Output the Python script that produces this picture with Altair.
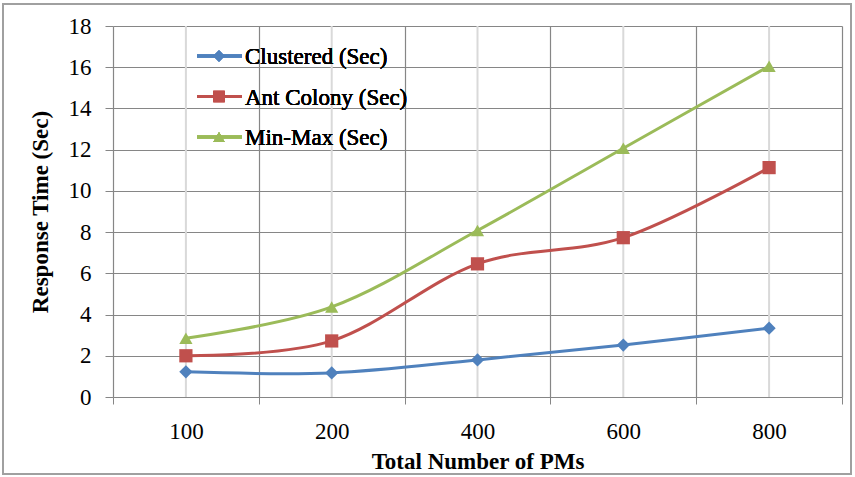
import altair as alt
import pandas as pd

# Response time per number of PMs for three scheduling approaches
categories = ["100", "200", "400", "600", "800"]
series_names = ["Clustered (Sec)", "Ant Colony (Sec)", "Min-Max (Sec)"]
clustered = [1.22, 1.17, 1.80, 2.52, 3.34]
ant_colony = [2.00, 2.72, 6.46, 7.73, 11.13]
min_max = [2.85, 4.37, 8.08, 12.07, 16.05]
y_ticks = [0, 2, 4, 6, 8, 10, 12, 14, 16, 18]

colors = ["#4F81BD", "#C0504D", "#9BBB59"]
shapes = ["diamond", "square", "triangle-up"]

rows = []
for name, vals in zip(series_names, [clustered, ant_colony, min_max]):
    for cat, v in zip(categories, vals):
        rows.append({"pm": cat, "series": name, "value": v})
df = pd.DataFrame(rows)
cat_df = pd.DataFrame({"pm": categories})

FONT = "Liberation Serif"
GRID = "#868686"
W, H = 729, 371

x_enc = alt.X(
    "pm:N",
    sort=categories,
    scale=alt.Scale(type="band", paddingInner=0, paddingOuter=0),
    axis=alt.Axis(
        title="Total Number of PMs",
        tickBand="extent",
        grid=True,
        gridColor=GRID,
        gridWidth=1.2,
        tickColor=GRID,
        tickSize=7,
        domain=False,
        labelAngle=0,
        labelFont=FONT,
        labelFontSize=23,
        labelColor="#000000",
        labelPadding=16,
        titleFont=FONT,
        titleFontSize=23,
        titleFontWeight="bold",
        titleColor="#000000",
        titleY=64,
        titleBaseline="middle",
    ),
)
y_enc = alt.Y(
    "value:Q",
    scale=alt.Scale(domain=[0, 18], nice=False, zero=True),
    axis=alt.Axis(
        values=y_ticks,
        title="Response Time (Sec)",
        grid=True,
        gridColor=GRID,
        gridWidth=1.2,
        tickColor=GRID,
        tickSize=8,
        domain=False,
        labelFont=FONT,
        labelFontSize=23,
        labelColor="#000000",
        labelPadding=14,
        titleFont=FONT,
        titleFontSize=23,
        titleFontWeight="bold",
        titleColor="#000000",
        titleX=-73,
        titleY=H / 2,
        titleBaseline="middle",
    ),
)
color_enc = alt.Color(
    "series:N", scale=alt.Scale(domain=series_names, range=colors), legend=None
)
shape_enc = alt.Shape(
    "series:N", scale=alt.Scale(domain=series_names, range=shapes), legend=None
)

# light vertical line through the middle of each category
center_rules = alt.Chart(cat_df).mark_rule(color="#d9d9d9", strokeWidth=2).encode(
    x=x_enc
)

lines = alt.Chart(df).mark_line(interpolate="cardinal", strokeWidth=3).encode(
    x=x_enc, y=y_enc, color=color_enc, detail="series:N"
)
points = alt.Chart(df).mark_point(filled=True, size=175, opacity=1).encode(
    x=x_enc, y=y_enc, color=color_enc, shape=shape_enc
)

# legend drawn inside the plot area, top left
legend_layers = []
for i, (name, col, shp) in enumerate(zip(series_names, colors, shapes)):
    ly = 30 + i * 40.5
    legend_layers.append(
        alt.Chart(cat_df).mark_rule(color=col, strokeWidth=3).encode(
            x=alt.value(84), x2=alt.value(129), y=alt.value(ly)
        )
    )
    legend_layers.append(
        alt.Chart(cat_df).mark_point(
            filled=True, size=130, opacity=1, color=col, shape=shp
        ).encode(x=alt.value(106), y=alt.value(ly))
    )
    legend_layers.append(
        alt.Chart(cat_df).mark_text(
            text=name, font=FONT, fontSize=23, color="#000000",
            align="left", baseline="middle"
        ).encode(x=alt.value(132), y=alt.value(ly + 1))
    )

# outer frame around the whole figure
frame = alt.Chart(cat_df).mark_rect(
    fillOpacity=0, stroke="#a0a0a0", strokeWidth=2
).encode(
    x=alt.value(-110), x2=alt.value(738), y=alt.value(-22), y2=alt.value(448)
)

chart = alt.layer(
    center_rules, lines, points, *legend_layers, frame
).properties(
    width=W,
    height=H,
    padding={"left": 113, "top": 26, "right": 13, "bottom": 80},
    autosize=alt.AutoSizeParams(type="none"),
    background="#ffffff",
).configure_view(stroke=None)

chart.save("out.html", embed_options={"renderer": "svg", "actions": False})
